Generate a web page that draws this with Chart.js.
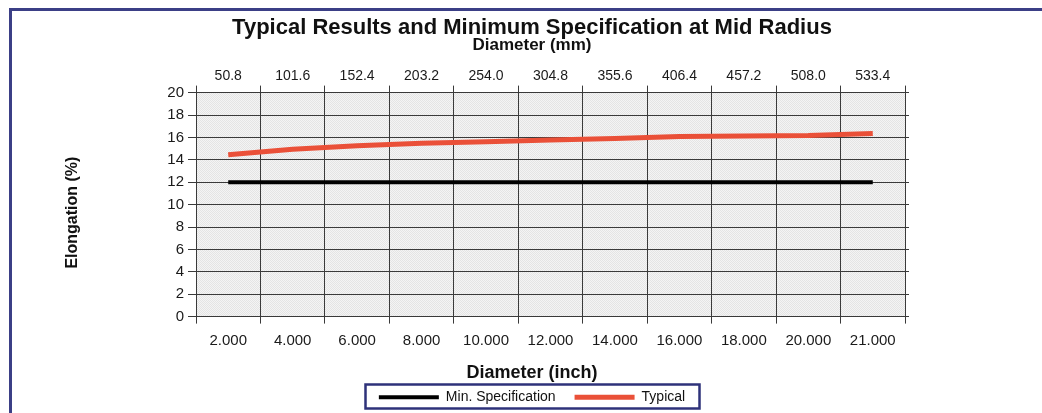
<!DOCTYPE html>
<html>
<head>
<meta charset="utf-8">
<script src="https://cdn.jsdelivr.net/npm/chart.js@4"></script>
<style>
  html, body { margin: 0; padding: 0; background: #fff; }
  #wrap { width: 1042px; height: 413px; position: relative; }
</style>
</head>
<body>
<div id="wrap"><canvas id="c"></canvas></div>
<script>
const inchLabels = ['2.000','4.000','6.000','8.000','10.000','12.000','14.000','16.000','18.000','20.000','21.000'];
const mmLabels = ['50.8','101.6','152.4','203.2','254.0','304.8','355.6','406.4','457.2','508.0','533.4'];
const minSpec = [12, 12, 12, 12, 12, 12, 12, 12, 12, 12, 12];
const typical = [14.45, 14.94, 15.25, 15.47, 15.62, 15.77, 15.9, 16.07, 16.12, 16.16, 16.35];
const yTicks = [0, 2, 4, 6, 8, 10, 12, 14, 16, 18, 20];

const FONT = "'Liberation Sans', Arial, Helvetica, sans-serif";
Chart.defaults.font.family = FONT;
Chart.defaults.color = '#1a1a1a';

const GRID = '#3a3a3a';

const patternCanvas = document.createElement('canvas');
patternCanvas.width = 2; patternCanvas.height = 2;
(function(){
  const p = patternCanvas.getContext('2d');
  p.fillStyle = '#f4f4f4'; p.fillRect(0,0,2,2);
  p.fillStyle = '#e4e4e4'; p.fillRect(0,0,1,1); p.fillRect(1,1,1,1);
})();

const decor = {
  id: 'decor',
  beforeDraw(chart) {
    const ctx = chart.ctx, a = chart.chartArea;
    ctx.save();
    ctx.fillStyle = ctx.createPattern(patternCanvas, 'repeat');
    ctx.fillRect(a.left, a.top, a.right - a.left, a.bottom - a.top);
    ctx.strokeStyle = '#3b3f86';
    ctx.lineWidth = 3;
    ctx.strokeRect(10.5, 9.5, 1200, 600);
    ctx.restore();
  },
  afterDraw(chart) {
    const lg = chart.legend;
    if (!lg || !lg.legendHitBoxes || !lg.legendHitBoxes.length) return;
    const boxes = lg.legendHitBoxes;
    let l = Infinity, r = -Infinity, cy = 0;
    boxes.forEach(b => { l = Math.min(l, b.left); r = Math.max(r, b.left + b.width); cy = b.top + b.height / 2; });
    const ctx = chart.ctx;
    ctx.save();
    ctx.strokeStyle = '#2e327a';
    ctx.lineWidth = 2.5;
    ctx.strokeRect(Math.round(l - 14) + 0.5, Math.round(cy - 13) + 0.5, Math.round(r - l + 28), 24);
    ctx.restore();
  }
};

new Chart(document.getElementById('c'), {
  type: 'line',
  data: {
    labels: inchLabels,
    datasets: [
      { label: 'Min. Specification', data: minSpec, borderColor: '#000000', backgroundColor: '#000000',
        borderWidth: 4, pointRadius: 0, tension: 0, borderCapStyle: 'butt' },
      { label: 'Typical', data: typical, borderColor: '#ea5038', backgroundColor: '#ea5038',
        borderWidth: 5, pointRadius: 0, tension: 0, borderCapStyle: 'butt' }
    ]
  },
  options: {
    responsive: true,
    maintainAspectRatio: false,
    animation: false,
    layout: { padding: { left: 22, right: 0, top: 14.5, bottom: -1.2 } },
    plugins: {
      title: { display: true, text: 'Typical Results and Minimum Specification at Mid Radius',
        font: { size: 22, weight: 'bold' }, color: '#111', padding: { top: 0, bottom: 0 } },
      subtitle: { display: true, text: 'Diameter (mm)', font: { size: 17, weight: 'bold' }, color: '#111',
        padding: { top: -5.4, bottom: 10.9 } },
      legend: { position: 'bottom',
        title: { display: true, text: 'Diameter (inch)', font: { size: 18, weight: 'bold' }, color: '#111',
          padding: { top: 6, bottom: 0 } },
        labels: { usePointStyle: true, pointStyle: 'line', pointStyleWidth: 60, boxHeight: 14,
          font: { size: 14 }, color: '#111', padding: 5,
          generateLabels(chart) {
            const items = Chart.defaults.plugins.legend.labels.generateLabels(chart);
            if (items[0]) items[0].text = items[0].text + '\u2002\u2002';
            return items;
          } } },
      tooltip: { enabled: false }
    },
    scales: {
      x: {
        type: 'category', position: 'bottom', offset: true,
        grid: { offset: true, color: GRID, tickLength: 7, lineWidth: 1 },
        border: { color: GRID },
        ticks: { font: { size: 15 }, color: '#1a1a1a', padding: 8, maxRotation: 0, autoSkip: false }
      },
      x2: {
        type: 'category', position: 'top', offset: true, labels: mmLabels,
        grid: { offset: true, drawOnChartArea: false, color: GRID, tickLength: 7 },
        border: { color: GRID },
        ticks: { font: { size: 14 }, color: '#1a1a1a', padding: 1, maxRotation: 0, autoSkip: false }
      },
      y: {
        position: 'left', min: 0, max: 20,
        afterBuildTicks(scale) { scale.ticks = yTicks.map(v => ({ value: v })); },
        afterFit(scale) { scale.width = 174; },
        grid: { color: GRID, tickLength: 8 },
        border: { color: GRID },
        ticks: { font: { size: 15 }, color: '#1a1a1a', padding: 4 },
        title: { display: true, text: 'Elongation (%)\u2002\u2002', font: { size: 16, weight: 'bold' }, color: '#111',
          padding: { top: 41.4, bottom: 0 } }
      },
      y2: {
        position: 'right', min: 0, max: 20,
        afterBuildTicks(scale) { scale.ticks = yTicks.map(v => ({ value: v })); },
        afterFit(scale) { scale.width = 137; },
        grid: { drawOnChartArea: false, color: GRID, tickLength: 4 },
        border: { color: GRID },
        ticks: { display: false }
      }
    }
  },
  plugins: [decor]
});
</script>
</body>
</html>
